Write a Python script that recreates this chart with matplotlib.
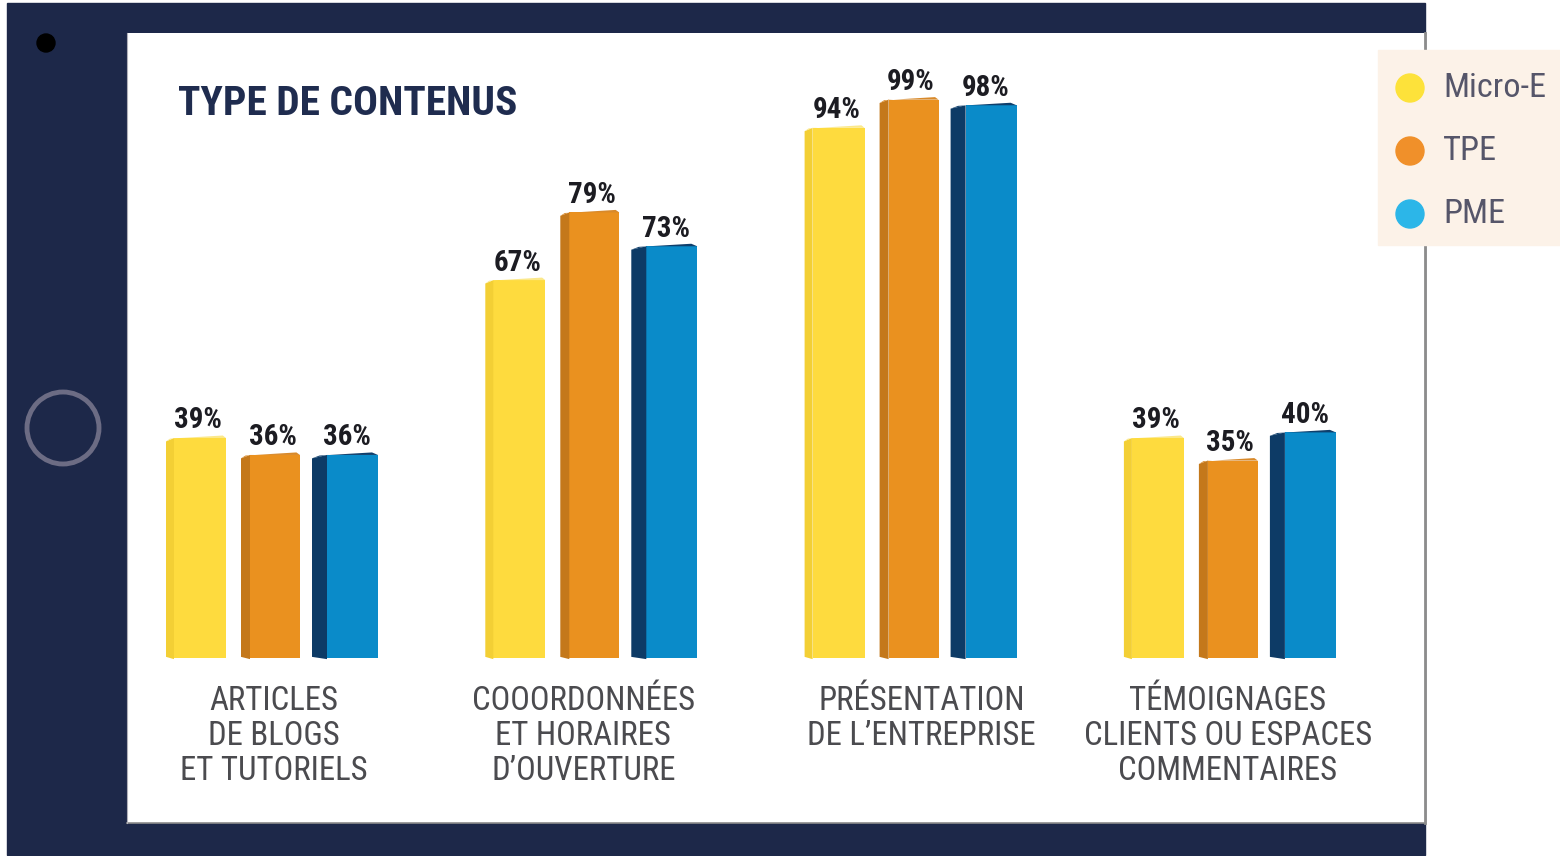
import matplotlib
matplotlib.use("Agg")
import matplotlib.pyplot as plt
from matplotlib.patches import Polygon, Rectangle, Circle
from matplotlib import font_manager as fm
import numpy as np

# ---------------- data ----------------
title = "TYPE DE CONTENUS"
categories = ["ARTICLES\nDE BLOGS\nET TUTORIELS",
              "COOORDONNÉES\nET HORAIRES\nD’OUVERTURE",
              "PRÉSENTATION\nDE L’ENTREPRISE",
              "TÉMOIGNAGES\nCLIENTS OU ESPACES\nCOMMENTAIRES"]
series = ["Micro-E", "TPE", "PME"]
micro_e = [39, 67, 94, 39]
tpe = [36, 79, 99, 35]
pme = [36, 73, 98, 40]

# ---------------- style ----------------
face_cols = ["#fedb3e", "#ea911f", "#0a8bc9"]
side_cols = ["#f3cf35", "#c4781b", "#0d3b66"]
top_cols = ["#fbe88a", "#d8892a", "#0f3f6c"]
legend_cols = ["#fde23a", "#f0902a", "#2cb6e8"]
navy = "#1d2849"

names = {f.name for f in fm.fontManager.ttflist}
cond = next((n for n in ["Roboto Condensed", "Liberation Sans Narrow", "Arial Narrow"] if n in names), None)
base = "Roboto" if "Roboto" in names else "DejaVu Sans"
fam = [cond, base, "DejaVu Sans"] if cond else [base, "DejaVu Sans"]

W, H = 1560, 856
fig = plt.figure(figsize=(W / 100, H / 100), dpi=100)
fig.patch.set_facecolor("white")

# background axes in pixel coordinates
bg = fig.add_axes([0, 0, 1, 1], zorder=0)
bg.set_xlim(0, W); bg.set_ylim(H, 0); bg.axis("off")
bg.add_patch(Rectangle((7, 3), 1418, 852, color=navy))
bg.add_patch(Circle((46, 43), 9, color="black"))
bg.add_patch(Circle((63, 428), 36, fill=False, ec="#6c6c84", lw=3.5))

# chart axes over the white screen: px 127..1425 x, 33..823 y
px_per_pct = 5.64
base_y = 658
scr_l, scr_r, scr_t, scr_b = 127, 1425, 33, 823
unit = 319.3  # pixels per group
g0 = 272
ax = fig.add_axes([scr_l / W, (H - scr_b) / H, (scr_r - scr_l) / W, (scr_b - scr_t) / H], zorder=1)
ax.set_facecolor("white")
ax.set_xlim((scr_l - g0) / unit, (scr_r - g0) / unit)
ax.set_ylim(-(scr_b - base_y) / px_per_pct, (base_y - scr_t) / px_per_pct)
for s in ax.spines.values():
    s.set_visible(False)
ax.set_xticks([]); ax.set_yticks([])

x = np.arange(len(categories))
offsets = [(-106, -46, 8), (-31, 28, 9), (40, 106, 15)]  # left, right, side width (px)
fig.canvas.draw()
renderer = fig.canvas.get_renderer()

def fit_size(t, target_w):
    w = t.get_window_extent(renderer).width
    return t.get_fontsize() * target_w / w

vals = [micro_e, tpe, pme]
vtexts = []
for k, v in enumerate(vals):
    l, r, sw = offsets[k]
    x0 = x + l / unit
    xs = x + (l + sw) / unit
    x1 = x + r / unit
    ax.bar(xs, v, width=x1 - xs, align="edge", color=face_cols[k], zorder=3, lw=0)
    for i in range(len(x)):
        vi = v[i]
        ax.add_patch(Polygon([(x0[i], 0.2), (xs[i], -0.2), (xs[i], vi), (x0[i], vi - 0.6)],
                             closed=True, color=side_cols[k], lw=0, zorder=3))
        ax.add_patch(Polygon([(x0[i], vi - 0.6), (xs[i], vi), (x1[i], vi + 0.0),
                              (x1[i] - 0.4 * sw / unit, vi + 0.45), (x0[i] + 0.5 * sw / unit, vi - 0.1)],
                             closed=True, color=top_cols[k], lw=0, zorder=3))
        t = ax.text((x0[i] + x1[i]) / 2 + 2 / unit, vi + 1.7, f"{vi}%", ha="center", va="baseline",
                    fontsize=21, fontweight="bold", color="#1c1c22", family=fam, zorder=4)
        vtexts.append(t)
vs = fit_size(vtexts[0], 48)
for t in vtexts:
    t.set_fontsize(vs)

label_dx = [2, -8, 11, -2]
label_w = [189, 226, 225, 286]
ltexts = []
for i, c in enumerate(categories):
    t = ax.text(x[i] + label_dx[i] / unit, -4.8, c, ha="center", va="top", fontsize=22,
                color="#4b4b4f", family=fam, linespacing=1.12, zorder=4)
    ltexts.append(t)
ls = float(np.mean([fit_size(t, w) for t, w in zip(ltexts, label_w)]))
for t in ltexts:
    t.set_fontsize(ls)

# overlay axes in pixel coords for title, legend, screen edge
ov = fig.add_axes([0, 0, 1, 1], zorder=5)
ov.set_xlim(0, W); ov.set_ylim(H, 0); ov.axis("off"); ov.patch.set_alpha(0)
ov.plot([scr_r, scr_r], [scr_t, scr_b], color="#8c8c8c", lw=2)
ov.plot([scr_l, scr_r], [scr_b, scr_b], color="#8c8c8c", lw=1.2)
ov.plot([scr_l, scr_l], [scr_t, scr_b], color="#b0b0b8", lw=0.8)
tt = ov.text(178, 104, title, ha="left", va="center", fontsize=28, fontweight="bold",
             color="#1f2c4f", family=fam)
tt.set_fontsize(fit_size(tt, 340))

ov.add_patch(Rectangle((1378, 50), 182, 195, color="#fcf2e8", zorder=2))
gts = []
for k, name in enumerate(series):
    yy = 88 + 63 * k
    ov.add_patch(Circle((1410, yy), 14, color=legend_cols[k], zorder=3))
    lt = ov.text(1443, yy, name, ha="left", va="center", fontsize=21, color="#56566a",
                 family=fam, zorder=3)
    gts.append(lt)
gs = fit_size(gts[0], 103)
for t in gts:
    t.set_fontsize(gs)

fig.savefig("out.png", dpi=100, facecolor="white")
